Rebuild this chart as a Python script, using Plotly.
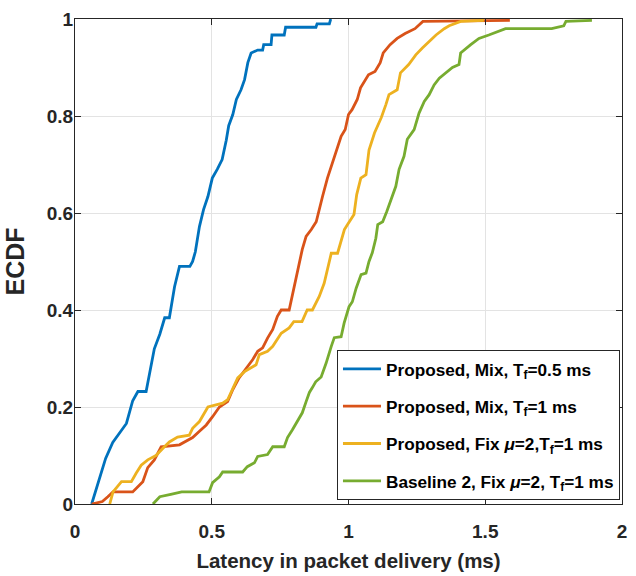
import plotly.graph_objects as go

# ---- data (latency in ms, ECDF value) ----
blue_x = [0.061, 0.09, 0.112, 0.138, 0.163, 0.188, 0.211, 0.23, 0.26, 0.272, 0.29, 0.31, 0.328, 0.345,
          0.357, 0.364, 0.382, 0.42, 0.43, 0.44, 0.455, 0.47, 0.486, 0.502, 0.52, 0.538, 0.553, 0.562,
          0.577, 0.59, 0.607, 0.62, 0.632, 0.644, 0.668, 0.686, 0.69, 0.717, 0.72, 0.765, 0.77,
          0.881, 0.885, 0.93, 0.935]
blue_y = [0.0, 0.054, 0.094, 0.127, 0.147, 0.166, 0.213, 0.232, 0.232, 0.27, 0.32, 0.35, 0.384, 0.384,
          0.423, 0.448, 0.49, 0.49, 0.5, 0.52, 0.572, 0.607, 0.634, 0.672, 0.69, 0.71, 0.75, 0.78,
          0.803, 0.834, 0.854, 0.875, 0.91, 0.93, 0.936, 0.936, 0.947, 0.947, 0.967, 0.967, 0.983,
          0.983, 0.99, 0.99, 1.0]

orange_x = [0.061, 0.10, 0.12, 0.139, 0.17, 0.211, 0.248, 0.266, 0.29, 0.315, 0.382, 0.43, 0.455, 0.48,
            0.503, 0.528, 0.558, 0.577, 0.6, 0.626, 0.65, 0.668, 0.686, 0.704, 0.723, 0.74, 0.754,
            0.783, 0.795, 0.813, 0.831, 0.845, 0.864, 0.882, 0.893, 0.905, 0.923, 0.937, 0.948, 0.96,
            0.973, 0.988, 1.0, 1.013, 1.032, 1.044, 1.06, 1.073, 1.097, 1.116, 1.127, 1.152, 1.178,
            1.207, 1.243, 1.272, 1.59]
orange_y = [0.0, 0.005, 0.015, 0.025, 0.025, 0.025, 0.046, 0.075, 0.091, 0.118, 0.122, 0.137, 0.15,
            0.163, 0.18, 0.2, 0.211, 0.236, 0.26, 0.28, 0.298, 0.315, 0.322, 0.342, 0.36, 0.387, 0.4,
            0.4, 0.43, 0.477, 0.525, 0.552, 0.566, 0.582, 0.61, 0.634, 0.672, 0.695, 0.717, 0.737,
            0.758, 0.772, 0.803, 0.813, 0.834, 0.858, 0.872, 0.885, 0.892, 0.91, 0.93, 0.947, 0.96,
            0.97, 0.98, 0.995, 0.997]

yellow_x = [0.127, 0.139, 0.17, 0.206, 0.224, 0.242, 0.266, 0.296, 0.327, 0.345, 0.375, 0.418, 0.43,
            0.455, 0.486, 0.54, 0.558, 0.577, 0.595, 0.62, 0.644, 0.662, 0.674, 0.704, 0.723, 0.74,
            0.754, 0.783, 0.8, 0.83, 0.849, 0.868, 0.893, 0.911, 0.93, 0.937, 0.96, 0.973, 0.985,
            0.996, 1.02, 1.03, 1.045, 1.064, 1.075, 1.095, 1.12, 1.137, 1.148, 1.178, 1.19, 1.22,
            1.246, 1.27, 1.295, 1.32, 1.35, 1.368, 1.41, 1.495]
yellow_y = [0.0, 0.025, 0.046, 0.046, 0.064, 0.08, 0.091, 0.1, 0.118, 0.128, 0.138, 0.142, 0.156,
            0.17, 0.2, 0.208, 0.215, 0.238, 0.26, 0.273, 0.28, 0.287, 0.308, 0.315, 0.325, 0.34,
            0.352, 0.363, 0.376, 0.376, 0.4, 0.4, 0.428, 0.455, 0.497, 0.517, 0.517, 0.545, 0.566,
            0.576, 0.597, 0.638, 0.672, 0.679, 0.73, 0.765, 0.797, 0.824, 0.844, 0.854, 0.889, 0.906,
            0.926, 0.94, 0.953, 0.967, 0.98, 0.986, 0.995, 0.997]

green_x = [0.285, 0.31, 0.35, 0.39, 0.49, 0.503, 0.528, 0.54, 0.613, 0.63, 0.656, 0.668, 0.704, 0.723,
           0.765, 0.777, 0.795, 0.813, 0.831, 0.845, 0.857, 0.868, 0.88, 0.9, 0.918, 0.937, 0.948,
           0.973, 0.984, 1.002, 1.014, 1.028, 1.046, 1.064, 1.075, 1.087, 1.1, 1.107, 1.125, 1.14,
           1.155, 1.173, 1.185, 1.203, 1.215, 1.24, 1.258, 1.277, 1.295, 1.313, 1.332, 1.356, 1.38,
           1.404, 1.41, 1.447, 1.477, 1.513, 1.538, 1.574, 1.743, 1.787, 1.795, 1.89]
green_y = [0.0, 0.015, 0.02, 0.025, 0.025, 0.044, 0.056, 0.066, 0.066, 0.077, 0.085, 0.098, 0.102, 0.118,
           0.118, 0.137, 0.153, 0.17, 0.188, 0.211, 0.23, 0.24, 0.252, 0.262, 0.29, 0.325, 0.343,
           0.345, 0.373, 0.407, 0.417, 0.445, 0.473, 0.476, 0.5, 0.518, 0.548, 0.576, 0.582, 0.603,
           0.627, 0.655, 0.69, 0.717, 0.752, 0.772, 0.806, 0.83, 0.844, 0.864, 0.878, 0.89, 0.9,
           0.906, 0.93, 0.947, 0.96, 0.967, 0.973, 0.98, 0.98, 0.986, 0.995, 0.997]

series_names = [
    "Proposed, Mix, T<sub>f</sub>=0.5 ms",
    "Proposed, Mix, T<sub>f</sub>=1 ms",
    "Proposed, Fix <i>μ</i>=2,T<sub>f</sub>=1 ms",
    "Baseline 2, Fix <i>μ</i>=2, T<sub>f</sub>=1 ms",
]
series_colors = ["#0072BD", "#D95319", "#EDB120", "#77AC30"]

x_ticks = [0, 0.5, 1, 1.5, 2]
x_ticklabels = ["0", "0.5", "1", "1.5", "2"]
y_ticks = [0, 0.2, 0.4, 0.6, 0.8, 1]
y_ticklabels = ["0", "0.2", "0.4", "0.6", "0.8", "1"]

FONT = "Liberation Sans, Arial, sans-serif"
INK = "#262626"

fig = go.Figure()
for i, (xs, ys) in enumerate([(blue_x, blue_y), (orange_x, orange_y), (yellow_x, yellow_y), (green_x, green_y)]):
    fig.add_trace(go.Scatter(
        x=xs, y=ys, mode="lines",
        line=dict(color=series_colors[i], width=2.8),
        name="<b>" + series_names[i] + "</b>", legendgroup=f"g{i}",
    ))

axis_common = dict(
    showgrid=True, gridcolor="#E3E3E3", gridwidth=1,
    showline=True, linecolor=INK, linewidth=1, mirror="allticks",
    ticks="inside", ticklen=6, tickcolor=INK, tickwidth=1,
    zeroline=False, automargin=False,
    tickfont=dict(family=FONT, size=19, color=INK, weight="bold"),
)

fig.update_xaxes(range=[0, 2], tickvals=x_ticks, ticktext=x_ticklabels,
                 title=dict(text="<b>Latency in packet delivery (ms)</b>",
                            font=dict(family=FONT, size=20.5, color=INK), standoff=12),
                 ticklabelstandoff=10, **axis_common)
fig.update_yaxes(range=[0, 1], tickvals=y_ticks, ticktext=y_ticklabels,
                 title=dict(text="<b>ECDF</b>", font=dict(family=FONT, size=25, color=INK), standoff=15),
                 ticklabelstandoff=-3, **axis_common)

fig.update_layout(
    width=636, height=576,
    margin=dict(l=75, r=14, t=19, b=72),
    plot_bgcolor="white", paper_bgcolor="white",
    font=dict(family=FONT, color=INK),
    showlegend=True,
    legend=dict(
        x=0.9963, xanchor="right", y=0.008, yanchor="bottom",
        bgcolor="white", bordercolor=INK, borderwidth=1,
        font=dict(family=FONT, size=17.2, color="#000000"),
        tracegroupgap=12, traceorder="grouped", itemwidth=38,
    ),
)

fig.write_html("out.html")
